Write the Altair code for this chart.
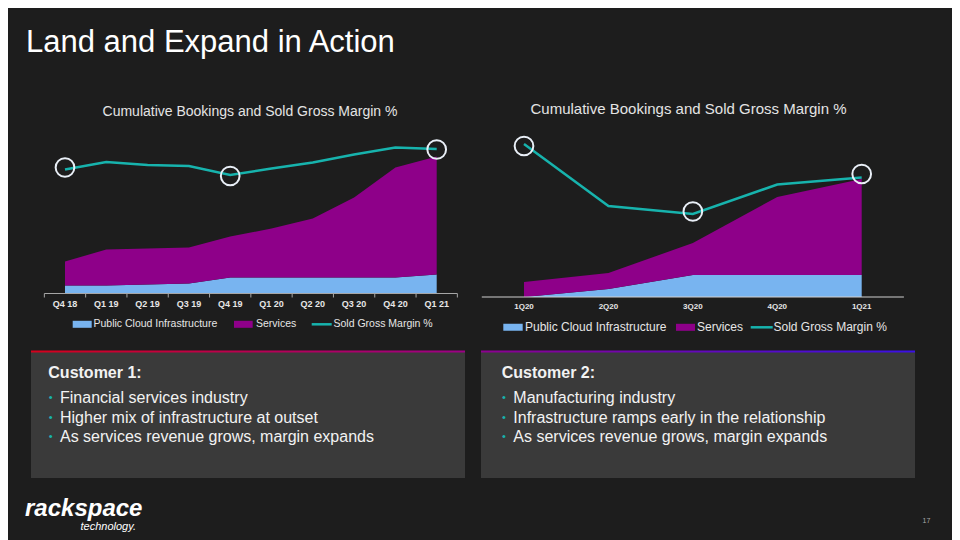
import altair as alt
import pandas as pd

FONT = "Liberation Sans, Arial, Helvetica, sans-serif"
OFF = 8


def P(v):
    return v - OFF


# ---------------- data ----------------
c1_quarters = ["Q4 18", "Q1 19", "Q2 19", "Q3 19", "Q4 19", "Q1 20", "Q2 20", "Q3 20", "Q4 20", "Q1 21"]
c1_infra = [8, 8, 9, 10, 16, 16, 16, 16, 16, 19]
c1_services = [24, 36, 36, 36, 41, 49, 59, 80, 110, 118]
c1_margin = [124, 131.5, 128.5, 127.5, 118.5, 125, 131, 139, 146, 144.5]
c1_circle_idx = [0, 4, 9]
c1_circle_val = [126, 117.5, 144]

c2_quarters = ["1Q20", "2Q20", "3Q20", "4Q20", "1Q21"]
c2_infra = [0, 8, 22, 22, 22]
c2_services = [15, 16, 32, 78, 96]
c2_margin = [153, 91, 83, 112.5, 119.5]
c2_circle_idx = [0, 2, 4]
c2_circle_val = [151, 85.5, 123]

series_names = ["Public Cloud Infrastructure", "Services"]
series_colors = ["#78b4f0", "#8e0089"]
margin_name = "Sold Gross Margin %"
chart_title = "Cumulative Bookings and Sold Gross Margin %"

customer1 = ["Financial services industry",
             "Higher mix of infrastructure at outset",
             "As services revenue grows, margin expands"]
customer2 = ["Manufacturing industry",
             "Infrastructure ramps early in the relationship",
             "As services revenue grows, margin expands"]

TEAL = "#17b3ad"
BG = "#1d1d1d"
WHITE = "#f2f2f2"

dummy = pd.DataFrame({"d": [0]})


def area_df(infra, services):
    rows = []
    for i, (a, b) in enumerate(zip(infra, services)):
        rows.append({"idx": i, "series": series_names[0], "value": a, "ord": 0})
        rows.append({"idx": i, "series": series_names[1], "value": b, "ord": 1})
    return pd.DataFrame(rows)


def txt(s, x, y, size, color=WHITE, weight="normal", align="left",
        baseline="middle", style="normal"):
    return alt.Chart(dummy).mark_text(
        text=s, fontSize=size, color=color, fontWeight=weight, align=align,
        baseline=baseline, fontStyle=style, font=FONT
    ).encode(x=alt.value(P(x)), y=alt.value(P(y)))


def box(x0, y0, x1, y1, color):
    return alt.Chart(dummy).mark_rect(color=color).encode(
        x=alt.value(P(x0)), x2=alt.value(P(x1)),
        y=alt.value(P(y0)), y2=alt.value(P(y1)))


def hline(x0, x1, y, color, width):
    return alt.Chart(dummy).mark_rule(color=color, strokeWidth=width).encode(
        x=alt.value(P(x0)), x2=alt.value(P(x1)), y=alt.value(P(y)))


color_scale = alt.Scale(domain=series_names, range=series_colors)


def panel(quarters, infra, services, margin, cidx, cval,
          xr, yr, axis_y, axis_color, label_y, label_size, ticks,
          title_x, title_y, title_size, legend):
    n = len(quarters)
    xs = alt.Scale(domain=[0, n - 1], range=[P(xr[0]), P(xr[1])], nice=False, zero=False)
    ys = alt.Scale(domain=[0, 150], range=[P(yr), P(yr - 150)], nice=False, zero=False)
    X = lambda f: alt.X(f, scale=xs, axis=None)
    Y = lambda f, **k: alt.Y(f, scale=ys, axis=None, **k)

    layers = []
    layers.append(alt.Chart(area_df(infra, services)).mark_area(opacity=1).encode(
        x=X("idx:Q"), y=Y("value:Q", stack="zero"),
        color=alt.Color("series:N", scale=color_scale, legend=None),
        order=alt.Order("ord:Q", sort="ascending")))
    mdf = pd.DataFrame({"idx": list(range(n)), "m": margin})
    layers.append(alt.Chart(mdf).mark_line(color=TEAL, strokeWidth=2.5).encode(
        x=X("idx:Q"), y=Y("m:Q")))
    cdf = pd.DataFrame({"idx": cidx, "v": cval})
    layers.append(alt.Chart(cdf).mark_point(shape="circle", filled=False, size=350,
                                            strokeWidth=2, color="#e9eff7", opacity=1).encode(
        x=X("idx:Q"), y=Y("v:Q")))
    adf = pd.DataFrame({"lo": [-0.5], "hi": [n - 0.5]})
    layers.append(alt.Chart(adf).mark_rule(color=axis_color, strokeWidth=1).encode(
        x=X("lo:Q"), x2="hi:Q", y=alt.value(P(axis_y))))
    if ticks:
        tdf = pd.DataFrame({"b": [i - 0.5 for i in range(n + 1)]})
        layers.append(alt.Chart(tdf).mark_rule(color=axis_color, strokeWidth=1).encode(
            x=X("b:Q"), y=alt.value(P(axis_y)), y2=alt.value(P(axis_y + 4))))
    ldf = pd.DataFrame({"idx": list(range(n)), "label": quarters})
    layers.append(alt.Chart(ldf).mark_text(fontSize=label_size, fontWeight="bold",
                                           color="#e6e6e6", font=FONT,
                                           align="center", baseline="middle").encode(
        x=X("idx:Q"), y=alt.value(P(label_y)), text="label:N"))
    layers.append(txt(chart_title, title_x, title_y, title_size, color="#e4e4e4",
                      align="center"))
    # legend
    ly, lsize, items = legend
    (b0, b1, bt), (s0, s1, st), (m0, m1, mt) = items
    layers.append(box(b0, ly - 3.5, b1, ly + 3.5, series_colors[0]))
    layers.append(txt(series_names[0], bt, ly, lsize, color="#e6e6e6"))
    layers.append(box(s0, ly - 3.5, s1, ly + 3.5, series_colors[1]))
    layers.append(txt(series_names[1], st, ly, lsize, color="#e6e6e6"))
    layers.append(hline(m0, m1, ly, TEAL, 2.5))
    layers.append(txt(margin_name, mt, ly, lsize, color="#e6e6e6"))
    return layers


layers = []
# page title
layers.append(txt("Land and Expand in Action", 26, 51.7, 31, color="#ffffff", baseline="alphabetic"))

layers += panel(c1_quarters, c1_infra, c1_services, c1_margin, c1_circle_idx, c1_circle_val,
                xr=(65, 436.7), yr=293.5, axis_y=293.5, axis_color="#a6a6a6",
                label_y=304, label_size=9, ticks=True,
                title_x=250, title_y=111.7, title_size=14,
                legend=(324.3, 10.5, ((72.7, 91.7, 93.5), (234, 252.7, 256), (311.7, 331.7, 333.5))))

layers += panel(c2_quarters, c2_infra, c2_services, c2_margin, c2_circle_idx, c2_circle_val,
                xr=(524, 861.7), yr=297, axis_y=297, axis_color="#d0d0d0",
                label_y=306.7, label_size=8, ticks=False,
                title_x=688.5, title_y=109.3, title_size=15,
                legend=(327.3, 12, ((503.3, 522.7, 525), (676, 695, 697), (750.7, 772.7, 773.5))))

# text boxes
for (x0, x1, g0, g1, head, lines, hx, dx, tx) in [
    (31, 465, "#d6001c", "#9c0086", "Customer 1:", customer1, 48.3, 50.7, 60),
    (481, 915, "#8d008f", "#3a10e6", "Customer 2:", customer2, 501.7, 504, 513.3),
]:
    layers.append(box(x0, 351, x1, 478, "#3a3a3a"))
    grad = alt.LinearGradient(gradient="linear", x1=0, x2=1, y1=0, y2=0,
                              stops=[alt.GradientStop(color=g0, offset=0),
                                     alt.GradientStop(color=g1, offset=1)])
    layers.append(alt.Chart(dummy).mark_rect(color=grad).encode(
        x=alt.value(P(x0)), x2=alt.value(P(x1)), y=alt.value(P(350.5)), y2=alt.value(P(352.5))))
    layers.append(txt(head, hx, 373.3, 16, weight="bold"))
    for k, line in enumerate(lines):
        yy = 398.3 + k * 19.2
        layers.append(txt("•", dx, yy, 11, color=TEAL, align="center"))
        layers.append(txt(line, tx, yy, 16))

# logo & page number
layers.append(txt("rackspace", 25, 515.5, 24, color="#ffffff", weight="bold",
                  style="italic", baseline="alphabetic"))
layers.append(txt("technology.", 80.5, 529.5, 11, color="#ffffff",
                  style="italic", baseline="alphabetic"))
layers.append(txt("17", 926.5, 521, 7, color="#a8a8a8", align="center"))

chart = alt.layer(*layers).resolve_scale(
    x="independent", y="independent"
).properties(
    width=944, height=532, padding=0,
    autosize=alt.AutoSizeParams(type="none"),
    background=BG,
).configure_view(stroke=None)

chart.save("out.html", embed_options={"renderer": "svg", "actions": False})
